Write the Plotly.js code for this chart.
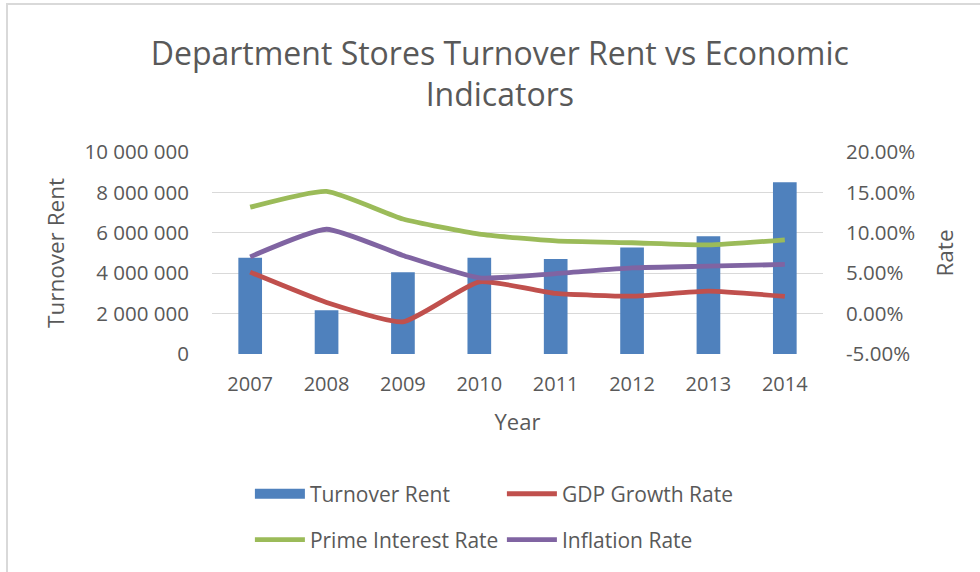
<!DOCTYPE html>
<html>
<head>
<meta charset="utf-8">
<script src="https://cdn.plot.ly/plotly-3.0.1.min.js"></script>
<style>
  html, body { margin: 0; padding: 0; background: #ffffff; }
  #chart { width: 980px; height: 572px; }
  #frame { position: absolute; left: 6px; top: 3px; width: 980px; height: 572px;
           border-left: 2px solid #d9d9d9; border-top: 2px solid #d9d9d9; pointer-events: none; }
</style>
</head>
<body>
<div id="chart"></div>
<div id="frame"></div>
<script>
// ---- data ----
const years = ['2007', '2008', '2009', '2010', '2011', '2012', '2013', '2014'];
const turnoverRent = [4760000, 2160000, 4050000, 4760000, 4700000, 5270000, 5830000, 8500000];
const gdpGrowth = [0.0513, 0.0138, -0.0101, 0.0393, 0.0249, 0.0216, 0.0278, 0.0213];
const primeRate = [0.1317, 0.1513, 0.1171, 0.0983, 0.0900, 0.0877, 0.0850, 0.0913];
const inflationRate = [0.0702, 0.1044, 0.0720, 0.0443, 0.0496, 0.0566, 0.0587, 0.0608];

const leftTicks = [0, 2000000, 4000000, 6000000, 8000000, 10000000];
const rightTicks = [-0.05, 0, 0.05, 0.10, 0.15, 0.20];
const rightTickText = ['-5.00%', '0.00%', '5.00%', '10.00%', '15.00%', '20.00%'];

const textColor = '#595959';
const fontFamily = '"Open Sans", sans-serif';

const traces = [
  {
    type: 'bar', name: 'Turnover Rent', x: years, y: turnoverRent,
    marker: { color: '#4F81BD' }, width: 0.31, showlegend: false, yaxis: 'y'
  },
  {
    type: 'scatter', mode: 'lines', name: 'Turnover Rent', x: [null], y: [null],
    line: { color: '#4F81BD', width: 12 }, legend: 'legend', hoverinfo: 'skip'
  },
  {
    type: 'scatter', mode: 'lines', name: 'GDP Growth Rate', x: years, y: gdpGrowth,
    line: { color: '#C0504D', width: 4.8, shape: 'spline', smoothing: 0.5 }, yaxis: 'y2', legend: 'legend'
  },
  {
    type: 'scatter', mode: 'lines', name: 'Prime Interest Rate', x: years, y: primeRate,
    line: { color: '#9BBB59', width: 4.8, shape: 'spline', smoothing: 0.5 }, yaxis: 'y2', legend: 'legend2'
  },
  {
    type: 'scatter', mode: 'lines', name: 'Inflation Rate', x: years, y: inflationRate,
    line: { color: '#8064A2', width: 4.8, shape: 'spline', smoothing: 0.5 }, yaxis: 'y2', legend: 'legend2'
  }
];

const legendCommon = {
  orientation: 'h', xref: 'container', yref: 'container', xanchor: 'left', yanchor: 'top',
  font: { family: fontFamily, size: 21, color: textColor },
  itemwidth: 50, entrywidth: 187, bgcolor: 'rgba(0,0,0,0)', borderwidth: 0, tracegroupgap: 0
};

const layout = {
  width: 980, height: 572,
  paper_bgcolor: '#ffffff', plot_bgcolor: '#ffffff',
  separators: '. ',
  font: { family: fontFamily, color: textColor },
  margin: { l: 212, r: 157, t: 152, b: 218, pad: 0 },
  title: {
    text: 'Department Stores Turnover Rent vs Economic<br>Indicators',
    xref: 'container', x: 0.51, xanchor: 'center',
    yref: 'container', y: 0.887, yanchor: 'top',
    font: { family: fontFamily, size: 32, color: textColor }
  },
  xaxis: {
    type: 'category', categoryorder: 'array', categoryarray: years,
    showgrid: false, showline: false, zeroline: false, ticks: '',
    tickfont: { family: fontFamily, size: 20, color: textColor },
    ticklabelstandoff: 16,
    title: { text: 'Year', font: { family: fontFamily, size: 22, color: textColor }, standoff: 18 }
  },
  yaxis: {
    range: [0, 10000000], tickvals: leftTicks, tickformat: ',d',
    showgrid: true, gridcolor: '#d9d9d9', gridwidth: 1, zeroline: false, showline: false, ticks: '',
    tickfont: { family: fontFamily, size: 20.5, color: textColor },
    ticklabelstandoff: 22,
    title: { text: 'Turnover Rent', font: { family: fontFamily, size: 22.5, color: textColor }, standoff: 13 }
  },
  yaxis2: {
    overlaying: 'y', side: 'right', range: [-0.05, 0.20],
    tickvals: rightTicks, ticktext: rightTickText,
    showgrid: false, zeroline: false, showline: false, ticks: '',
    tickfont: { family: fontFamily, size: 20.5, color: textColor },
    ticklabelstandoff: 22,
    title: { text: 'Rate', font: { family: fontFamily, size: 22.5, color: textColor }, standoff: 23 }
  },
  legend: Object.assign({}, legendCommon, { x: 0.255, y: 0.172 }),
  legend2: Object.assign({}, legendCommon, { x: 0.255, y: 0.092 }),
  showlegend: true,
  bargap: 0.69
};

Plotly.newPlot('chart', traces, layout, { displayModeBar: false, staticPlot: true });
</script>
</body>
</html>
